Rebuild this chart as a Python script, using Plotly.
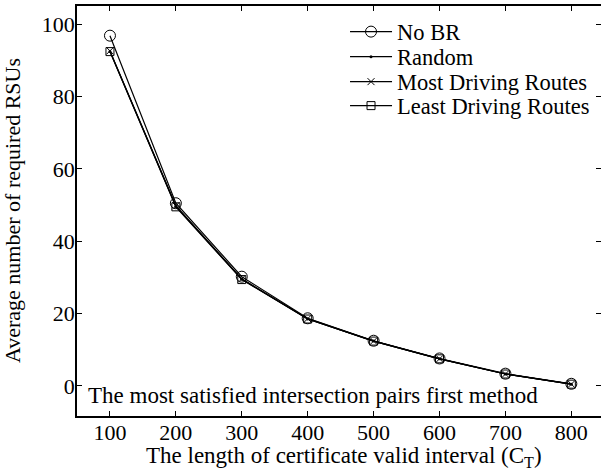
import plotly.graph_objects as go

x_vals = [100, 200, 300, 400, 500, 600, 700, 800]
no_br = [96.8, 50.5, 30.2, 18.7, 12.5, 7.6, 3.4, 0.6]
random_sel = [92.4, 49.6, 29.5, 18.5, 12.4, 7.5, 3.3, 0.5]
most_routes = [92.6, 49.8, 29.6, 18.6, 12.4, 7.5, 3.3, 0.5]
least_routes = [92.4, 49.5, 29.4, 18.5, 12.4, 7.5, 3.3, 0.5]
x_ticks = [100, 200, 300, 400, 500, 600, 700, 800]
y_ticks = [0, 20, 40, 60, 80, 100]

FONT = "Liberation Serif, Times New Roman, serif"

fig = go.Figure()
series = [
    ("No BR", no_br, dict(symbol="circle-open", size=11, color="black", line=dict(width=1, color="black"))),
    ("Random", random_sel, dict(symbol="circle", size=3, color="black")),
    ("Most Driving Routes", most_routes, dict(symbol="x-thin-open", size=7, color="black", line=dict(width=1, color="black"))),
    ("Least Driving Routes", least_routes, dict(symbol="square-open", size=8, color="black", line=dict(width=1, color="black"))),
]
legend_ids = ["legend", "legend2", "legend3", "legend4"]
legend_rows = [0.9366, 0.8756, 0.8146, 0.7561]
for (name, ys, mk), lid in zip(series, legend_ids):
    fig.add_trace(go.Scatter(x=x_vals, y=ys, name=name, mode="lines+markers", legend=lid,
                             showlegend=True,
                             line=dict(color="black", width=1.2), marker=mk))

fig.add_annotation(text="The most satisfied intersection pairs first method",
                   xref="paper", yref="paper", x=0.018, y=0.05, xanchor="left", yanchor="middle",
                   showarrow=False, font=dict(family=FONT, size=23, color="black"))
fig.add_annotation(text="The length of certificate valid interval (C<sub>T</sub>)",
                   xref="paper", yref="paper", x=0.509, y=-0.062, xanchor="center", yanchor="top",
                   showarrow=False, font=dict(family=FONT, size=23, color="black"))
fig.add_annotation(text="Average number of required RSUs", textangle=-90,
                   xref="paper", yref="paper", x=-0.124, y=0.5, xanchor="center", yanchor="middle",
                   showarrow=False, font=dict(family=FONT, size=22, color="black"))

axis_common = dict(showgrid=False, zeroline=False, showline=True, linecolor="black", linewidth=1.5,
                   mirror="ticks", ticks="inside", ticklen=5, tickcolor="black", automargin=False,
                   tickfont=dict(family=FONT, size=22, color="black"))
fig.update_xaxes(range=[50, 845], tickvals=x_ticks, ticktext=[str(v) for v in x_ticks],
                 ticklabelstandoff=-4, **axis_common)
fig.update_yaxes(range=[-8.3, 105], tickvals=y_ticks, ticktext=[str(v) for v in y_ticks],
                 ticklabelstandoff=-4, **axis_common)

legend_layout = {}
for lid, ly in zip(legend_ids, legend_rows):
    legend_layout[lid] = dict(x=0.5115, y=ly, xanchor="left", yanchor="middle",
                              bgcolor="rgba(0,0,0,0)", itemwidth=42,
                              font=dict(family=FONT, size=22.5, color="black"))

fig.update_layout(width=601, height=471, margin=dict(l=77, r=0, t=6, b=55),
                  plot_bgcolor="white", paper_bgcolor="white", showlegend=True,
                  font=dict(family=FONT, size=22, color="black"),
                  **legend_layout)

fig.write_html("out.html", config={"displayModeBar": False},
               post_script="document.body.style.margin='0';document.body.style.overflow='hidden';")
